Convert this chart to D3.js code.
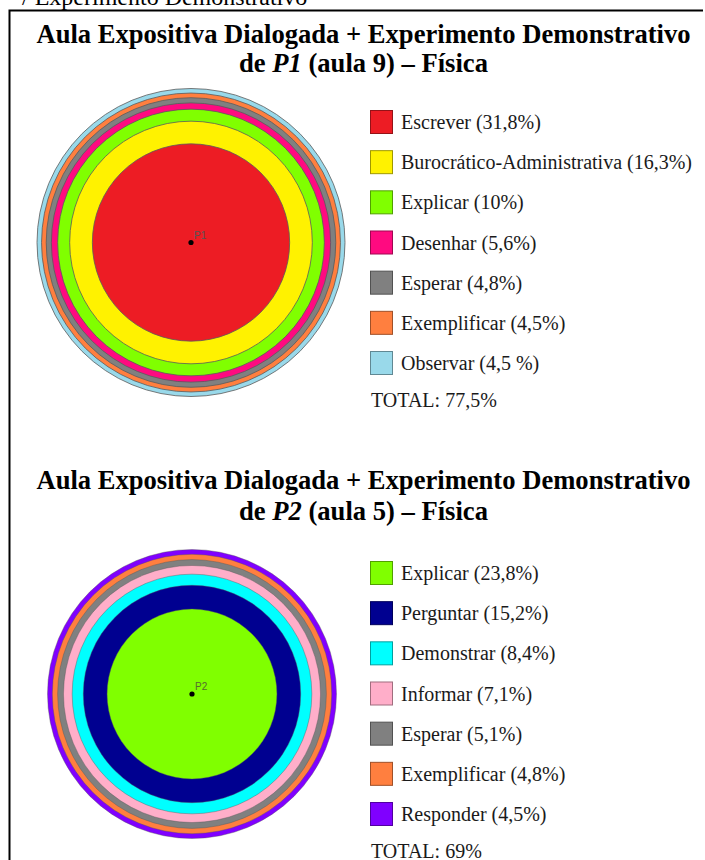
<!DOCTYPE html>
<html>
<head>
<meta charset="utf-8">
<script src="https://cdn.jsdelivr.net/npm/d3@7"></script>
<style>
  html, body { margin: 0; padding: 0; background: #fff; }
  svg { display: block; }
</style>
</head>
<body>
<svg id="chart" width="705" height="860"></svg>
<script>
// Lesson 1 (P1, aula 9): share of each teaching action
const categoriesP1 = ["Escrever", "Burocrático-Administrativa", "Explicar", "Desenhar", "Esperar", "Exemplificar", "Observar"];
const valuesP1 = [31.8, 16.3, 10, 5.6, 4.8, 4.5, 4.5];
const labelsP1 = ["Escrever (31,8%)", "Burocrático-Administrativa (16,3%)", "Explicar (10%)", "Desenhar (5,6%)", "Esperar (4,8%)", "Exemplificar (4,5%)", "Observar (4,5 %)"];
const colorsP1 = ["#ED1C24", "#FFF200", "#80FF00", "#FF0A80", "#808080", "#FF7F3F", "#99D9EA"];
const totalP1 = "TOTAL: 77,5%";

// Lesson 2 (P2, aula 5)
const categoriesP2 = ["Explicar", "Perguntar", "Demonstrar", "Informar", "Esperar", "Exemplificar", "Responder"];
const valuesP2 = [23.8, 15.2, 8.4, 7.1, 5.1, 4.8, 4.5];
const labelsP2 = ["Explicar (23,8%)", "Perguntar (15,2%)", "Demonstrar (8,4%)", "Informar (7,1%)", "Esperar (5,1%)", "Exemplificar (4,8%)", "Responder (4,5%)"];
const colorsP2 = ["#80FF00", "#000090", "#00FFFF", "#FFAEC9", "#808080", "#FF7F3F", "#8000FF"];
const totalP2 = "TOTAL: 69%";

const titleLine1 = "Aula Expositiva Dialogada + Experimento Demonstrativo";
const titlesLine2 = [["de ", "P1", " (aula 9) – Física"], ["de ", "P2", " (aula 5) – Física"]];
const centerLabels = ["P1", "P2"];

const svg = d3.select("#chart");
const serif = "'Liberation Serif', 'Times New Roman', serif";

// Caption fragment from the preceding figure, clipped by the page edge
svg.append("text")
  .attr("x", 22).attr("y", 5)
  .attr("font-family", serif).attr("font-size", 24)
  .attr("fill", "#000")
  .text("/ Experimento Demonstrativo");

// Frame (left and top edges)
svg.append("path")
  .attr("d", "M9.5,861 V10.5 H703")
  .attr("fill", "none").attr("stroke", "#000").attr("stroke-width", 2);

const panels = [
  { cats: categoriesP1, vals: valuesP1, labels: labelsP1, colors: colorsP1, total: totalP1,
    title1Y: 43, title2Y: 72, cx: 191, cy: 242.5, R: 154, legendTop: 110, totalY: 407,
    ringStroke: "#5a5a5a", ringStrokeW: 0.8, centerColor: "#555" },
  { cats: categoriesP2, vals: valuesP2, labels: labelsP2, colors: colorsP2, total: totalP2,
    title1Y: 489, title2Y: 520, cx: 192, cy: 694, R: 144.5, legendTop: 561, totalY: 858,
    ringStroke: "#555", ringStrokeW: 0.4, centerColor: "#556b2f" }
];

panels.forEach((p, k) => {
  const g = svg.append("g");

  // Title
  g.append("text")
    .attr("x", 363.5).attr("y", p.title1Y)
    .attr("text-anchor", "middle")
    .attr("font-family", serif).attr("font-size", 26.6).attr("font-weight", "bold")
    .text(titleLine1);
  const t2 = g.append("text")
    .attr("x", 363.5).attr("y", p.title2Y)
    .attr("text-anchor", "middle")
    .attr("font-family", serif).attr("font-size", 26.6).attr("font-weight", "bold");
  titlesLine2[k].forEach((s, i) => {
    t2.append("tspan").attr("font-style", i === 1 ? "italic" : null).text(s);
  });

  // Concentric area chart: each disc's area equals the cumulative share
  const cum = d3.cumsum(p.vals);
  const total = cum[cum.length - 1];
  const r = d3.scaleSqrt().domain([0, total]).range([0, p.R]);
  const rings = Array.from(cum, (c, i) => ({ c, color: p.colors[i] })).reverse();

  g.selectAll("circle.ring").data(rings).join("circle")
    .attr("class", "ring")
    .attr("cx", p.cx).attr("cy", p.cy)
    .attr("r", d => r(d.c))
    .attr("fill", d => d.color)
    .attr("stroke", p.ringStroke)
    .attr("stroke-width", p.ringStrokeW);

  g.append("circle").attr("cx", p.cx).attr("cy", p.cy).attr("r", 2.6).attr("fill", "#000");
  g.append("text")
    .attr("x", p.cx + 3).attr("y", p.cy - 4)
    .attr("font-family", "'Liberation Sans', Arial, sans-serif").attr("font-size", 10)
    .attr("fill", p.centerColor)
    .text(centerLabels[k]);

  // Legend
  const y = d3.scaleLinear().domain([0, p.cats.length - 1]).range([p.legendTop, p.legendTop + 241]);
  const items = g.selectAll("g.item").data(p.cats).join("g")
    .attr("class", "item")
    .attr("transform", (d, i) => `translate(0,${y(i)})`);
  items.append("rect")
    .attr("x", 370.5).attr("y", 0.5).attr("width", 22).attr("height", 23)
    .attr("fill", (d, i) => p.colors[i])
    .attr("stroke", (d, i) => d3.color(p.colors[i]).darker(1.3))
    .attr("stroke-width", 1);
  items.append("text")
    .attr("x", 401).attr("y", 19)
    .attr("font-family", serif).attr("font-size", 20).attr("fill", "#1a1a1a")
    .text((d, i) => p.labels[i]);

  g.append("text")
    .attr("x", 371).attr("y", p.totalY)
    .attr("font-family", serif).attr("font-size", 20).attr("fill", "#1a1a1a")
    .text(p.total);
});
</script>
</body>
</html>
